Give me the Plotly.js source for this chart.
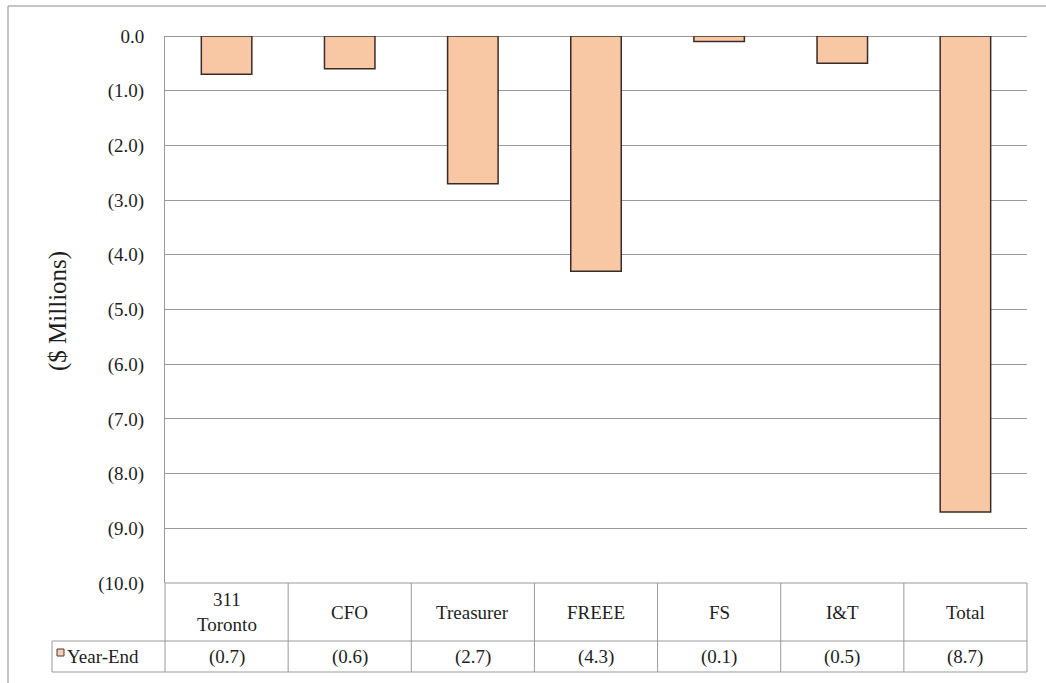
<!DOCTYPE html>
<html>
<head>
<meta charset="utf-8">
<script src="https://cdn.plot.ly/plotly-3.0.1.min.js"></script>
<style>
  html, body { margin: 0; padding: 0; background: #ffffff; }
  #chart { width: 1046px; height: 683px; }
</style>
</head>
<body>
<div id="chart"></div>
<script>
// Year-end variance by program, $ millions
const categories = ['311 Toronto', 'CFO', 'Treasurer', 'FREEE', 'FS', 'I&T', 'Total'];
const categoryLabels = ['311<br>Toronto', 'CFO', 'Treasurer', 'FREEE', 'FS', 'I&amp;T', 'Total'];
const yearEnd = [-0.7, -0.6, -2.7, -4.3, -0.1, -0.5, -8.7];
const seriesName = 'Year-End';
const tickValues = [0, -1, -2, -3, -4, -5, -6, -7, -8, -9, -10];
const tickLabels = ['0.0', '(1.0)', '(2.0)', '(3.0)', '(4.0)', '(5.0)', '(6.0)', '(7.0)', '(8.0)', '(9.0)', '(10.0)'];

const W = 1046, H = 683;
const M = { l: 165, r: 19, t: 36, b: 100 };
const PW = W - M.l - M.r, PH = H - M.t - M.b;
// pixel -> paper helpers for the data-table frame
const px = x => (x - M.l) / PW;
const py = y => (H - M.b - y) / PH;

const FONT = '"Liberation Serif", "Times New Roman", Times, serif';
const GRID = '#9a9a9a';
const TEXT = '#1e1e1e';
const TXT_SIZE = 19;
const fmt = v => v < 0 ? '(' + Math.abs(v).toFixed(1) + ')' : v.toFixed(1);

const trace = {
  type: 'bar',
  x: categories,
  y: yearEnd,
  name: seriesName,
  marker: { color: '#f8c8a4', line: { color: '#3b2b27', width: 1.5 } },
  hoverinfo: 'x+y'
};

const rowTop = H - M.b;        // table top (y = -10 line)
const rowMid = 641;            // between header row and value row
const rowBot = 672;            // table bottom
const legendLeft = 52;

const shapes = [];
const line = (x0, y0, x1, y1, xref) => ({
  type: 'line', xref: xref || 'paper', yref: 'paper',
  x0, y0, x1, y1, line: { color: GRID, width: 1 }
});

// outer chart frame
shapes.push({ type: 'rect', xref: 'paper', yref: 'paper',
  x0: px(8), x1: px(1060), y0: py(6), y1: py(700),
  line: { color: '#8c8c8c', width: 1 }, fillcolor: 'rgba(0,0,0,0)', layer: 'below' });

// table horizontal rules
shapes.push(line(px(M.l), py(rowTop), px(W - M.r), py(rowTop)));
shapes.push(line(px(legendLeft), py(rowMid), px(W - M.r), py(rowMid)));
shapes.push(line(px(legendLeft), py(rowBot), px(W - M.r), py(rowBot)));
// table verticals
shapes.push(line(px(M.l), py(rowTop), px(M.l), py(rowBot)));
shapes.push(line(px(W - M.r), py(rowTop), px(W - M.r), py(rowBot)));
shapes.push(line(px(legendLeft), py(rowMid), px(legendLeft), py(rowBot)));
for (let i = 1; i < categories.length; i++) {
  shapes.push(line(i - 0.5, py(rowTop), i - 0.5, py(rowBot), 'x'));
}
// legend swatch
shapes.push({ type: 'rect', xref: 'paper', yref: 'paper',
  x0: px(57), x1: px(64), y0: py(649), y1: py(656),
  fillcolor: '#f3cdb5', line: { color: '#4a3a35', width: 1 } });

const annotations = [];
categories.forEach((c, i) => {
  annotations.push({ x: c, xref: 'x', y: py((rowTop + rowMid) / 2), yref: 'paper',
    text: categoryLabels[i], showarrow: false, xanchor: 'center', yanchor: 'middle',
    font: { family: FONT, size: TXT_SIZE, color: TEXT } });
  annotations.push({ x: c, xref: 'x', y: py((rowMid + rowBot) / 2), yref: 'paper',
    text: fmt(yearEnd[i]), showarrow: false, xanchor: 'center', yanchor: 'middle',
    font: { family: FONT, size: TXT_SIZE, color: TEXT } });
});
annotations.push({ x: px(65), xref: 'paper', y: py((rowMid + rowBot) / 2), yref: 'paper',
  text: seriesName, showarrow: false, xanchor: 'left', yanchor: 'middle',
  font: { family: FONT, size: TXT_SIZE, color: TEXT } });
// axis title
annotations.push({ x: px(58), xref: 'paper', y: py(311), yref: 'paper',
  text: '($ Millions)', textangle: -90, showarrow: false,
  xanchor: 'center', yanchor: 'middle',
  font: { family: FONT, size: 25, color: TEXT } });

const layout = {
  width: W, height: H,
  margin: M,
  paper_bgcolor: '#ffffff', plot_bgcolor: '#ffffff',
  showlegend: false,
  bargap: 0.59,
  font: { family: FONT, color: TEXT },
  xaxis: {
    type: 'category', range: [-0.5, categories.length - 0.5],
    showticklabels: false, showgrid: false, zeroline: false,
    showline: false, ticks: '', fixedrange: true
  },
  yaxis: {
    range: [-10, 0], tickvals: tickValues, ticktext: tickLabels,
    showgrid: true, gridcolor: GRID, gridwidth: 1,
    zeroline: true, zerolinecolor: GRID, zerolinewidth: 1,
    showline: true, linecolor: GRID, linewidth: 1,
    ticks: '', ticklabelstandoff: 16,
    tickfont: { family: FONT, size: TXT_SIZE, color: TEXT },
    fixedrange: true
  },
  shapes, annotations
};

Plotly.newPlot('chart', [trace], layout, { displayModeBar: false, staticPlot: true });
</script>
</body>
</html>
